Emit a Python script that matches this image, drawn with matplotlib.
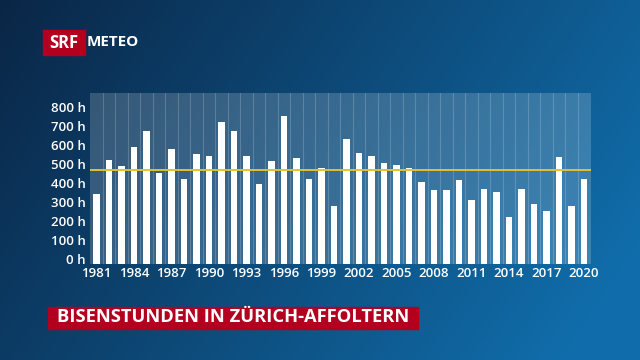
import numpy as np
import matplotlib
matplotlib.use('Agg')
import matplotlib.pyplot as plt
import matplotlib.transforms as mtransforms
from matplotlib.patches import Rectangle

# Bisenstunden pro Jahr, Zuerich-Affoltern
years = list(range(1981, 2021))
hours = [367, 547, 516, 617, 702, 477, 604, 446, 579, 570,
         749, 698, 568, 423, 544, 781, 556, 446, 504, 307,
         658, 584, 570, 532, 521, 505, 432, 389, 389, 440,
         335, 395, 377, 247, 393, 317, 281, 565, 304, 447]
mean_hours = 493
ytick_vals = [0, 100, 200, 300, 400, 500, 600, 700, 800]
xtick_years = list(range(1981, 2021, 3))
title = 'BISENSTUNDEN IN ZÜRICH-AFFOLTERN'

font = 'Open Sans'
fig = plt.figure(figsize=(6.4, 3.6), dpi=100)

# background gradient
bg = fig.add_axes([0, 0, 1, 1])
nx, ny = 320, 180
gx, gy = np.meshgrid(np.linspace(0, 1, nx), np.linspace(0, 1, ny))
t = np.clip(0.8 * gx + 0.3 * gy, 0, 1) / 1.1
c0 = np.array([10, 38, 70]) / 255.
c1 = np.array([17, 116, 180]) / 255.
img = c0[None, None, :] * (1 - t[..., None]) + c1[None, None, :] * t[..., None]
bg.imshow(img, aspect='auto', extent=[0, 1, 0, 1], origin='upper')
bg.set_xlim(0, 1)
bg.set_ylim(0, 1)
bg.axis('off')

ax = fig.add_axes([90 / 640, 1 - 264 / 360, 501 / 640, 170.7 / 360])
ax.patch.set_facecolor('white')
ax.patch.set_alpha(0.18)
ax.bar(years, hours, width=0.52, color='white', zorder=3)
ax.axhline(mean_hours, color='#e2c22c', lw=1.4, zorder=4)
for yr in years[:-1]:
    ax.axvline(yr + 0.5, color='white', alpha=0.18, lw=0.8, zorder=1)
ax.set_xlim(1980.46, 2020.58)
ax.set_ylim(0, 898)
for s in ax.spines.values():
    s.set_visible(False)
ax.set_yticks(ytick_vals)
ax.set_yticklabels(['%d h' % v for v in ytick_vals])
ax.set_xticks(xtick_years)
ax.set_xticklabels([str(y) for y in xtick_years])
ax.tick_params(length=0, colors='white', labelsize=9.5, pad=3)
ax.tick_params(axis='x', pad=2)
for lab in ax.get_yticklabels() + ax.get_xticklabels():
    lab.set_fontfamily(font)
    lab.set_fontweight('semibold')
offset = mtransforms.ScaledTranslation(0, 5 / 100, fig.dpi_scale_trans)
for lab in ax.get_yticklabels():
    lab.set_transform(lab.get_transform() + offset)

# logo
fig.patches.append(Rectangle((43 / 640, 1 - 54.5 / 360), 42 / 640, 24.5 / 360,
                             transform=fig.transFigure, color='#b3001f', zorder=5))
fig.text(64 / 640, 1 - 42.5 / 360, 'SRF', color='white', fontsize=12,
         fontweight='bold', family=font, ha='center', va='center', zorder=6)
fig.text(86.5 / 640, 1 - 42.5 / 360, 'METEO', color='white', fontsize=11,
         fontweight='bold', family=font, ha='left', va='center', zorder=6)

# title box
fig.patches.append(Rectangle((48 / 640, 1 - 328.5 / 360), 370 / 640, 22 / 360,
                             transform=fig.transFigure, color='#b3001f', zorder=5))
fig.text(233 / 640, 1 - 317.5 / 360, title, color='white', fontsize=13.2,
         fontweight='bold', family=font, ha='center', va='center', zorder=6)

fig.savefig('out.png', dpi=100)
